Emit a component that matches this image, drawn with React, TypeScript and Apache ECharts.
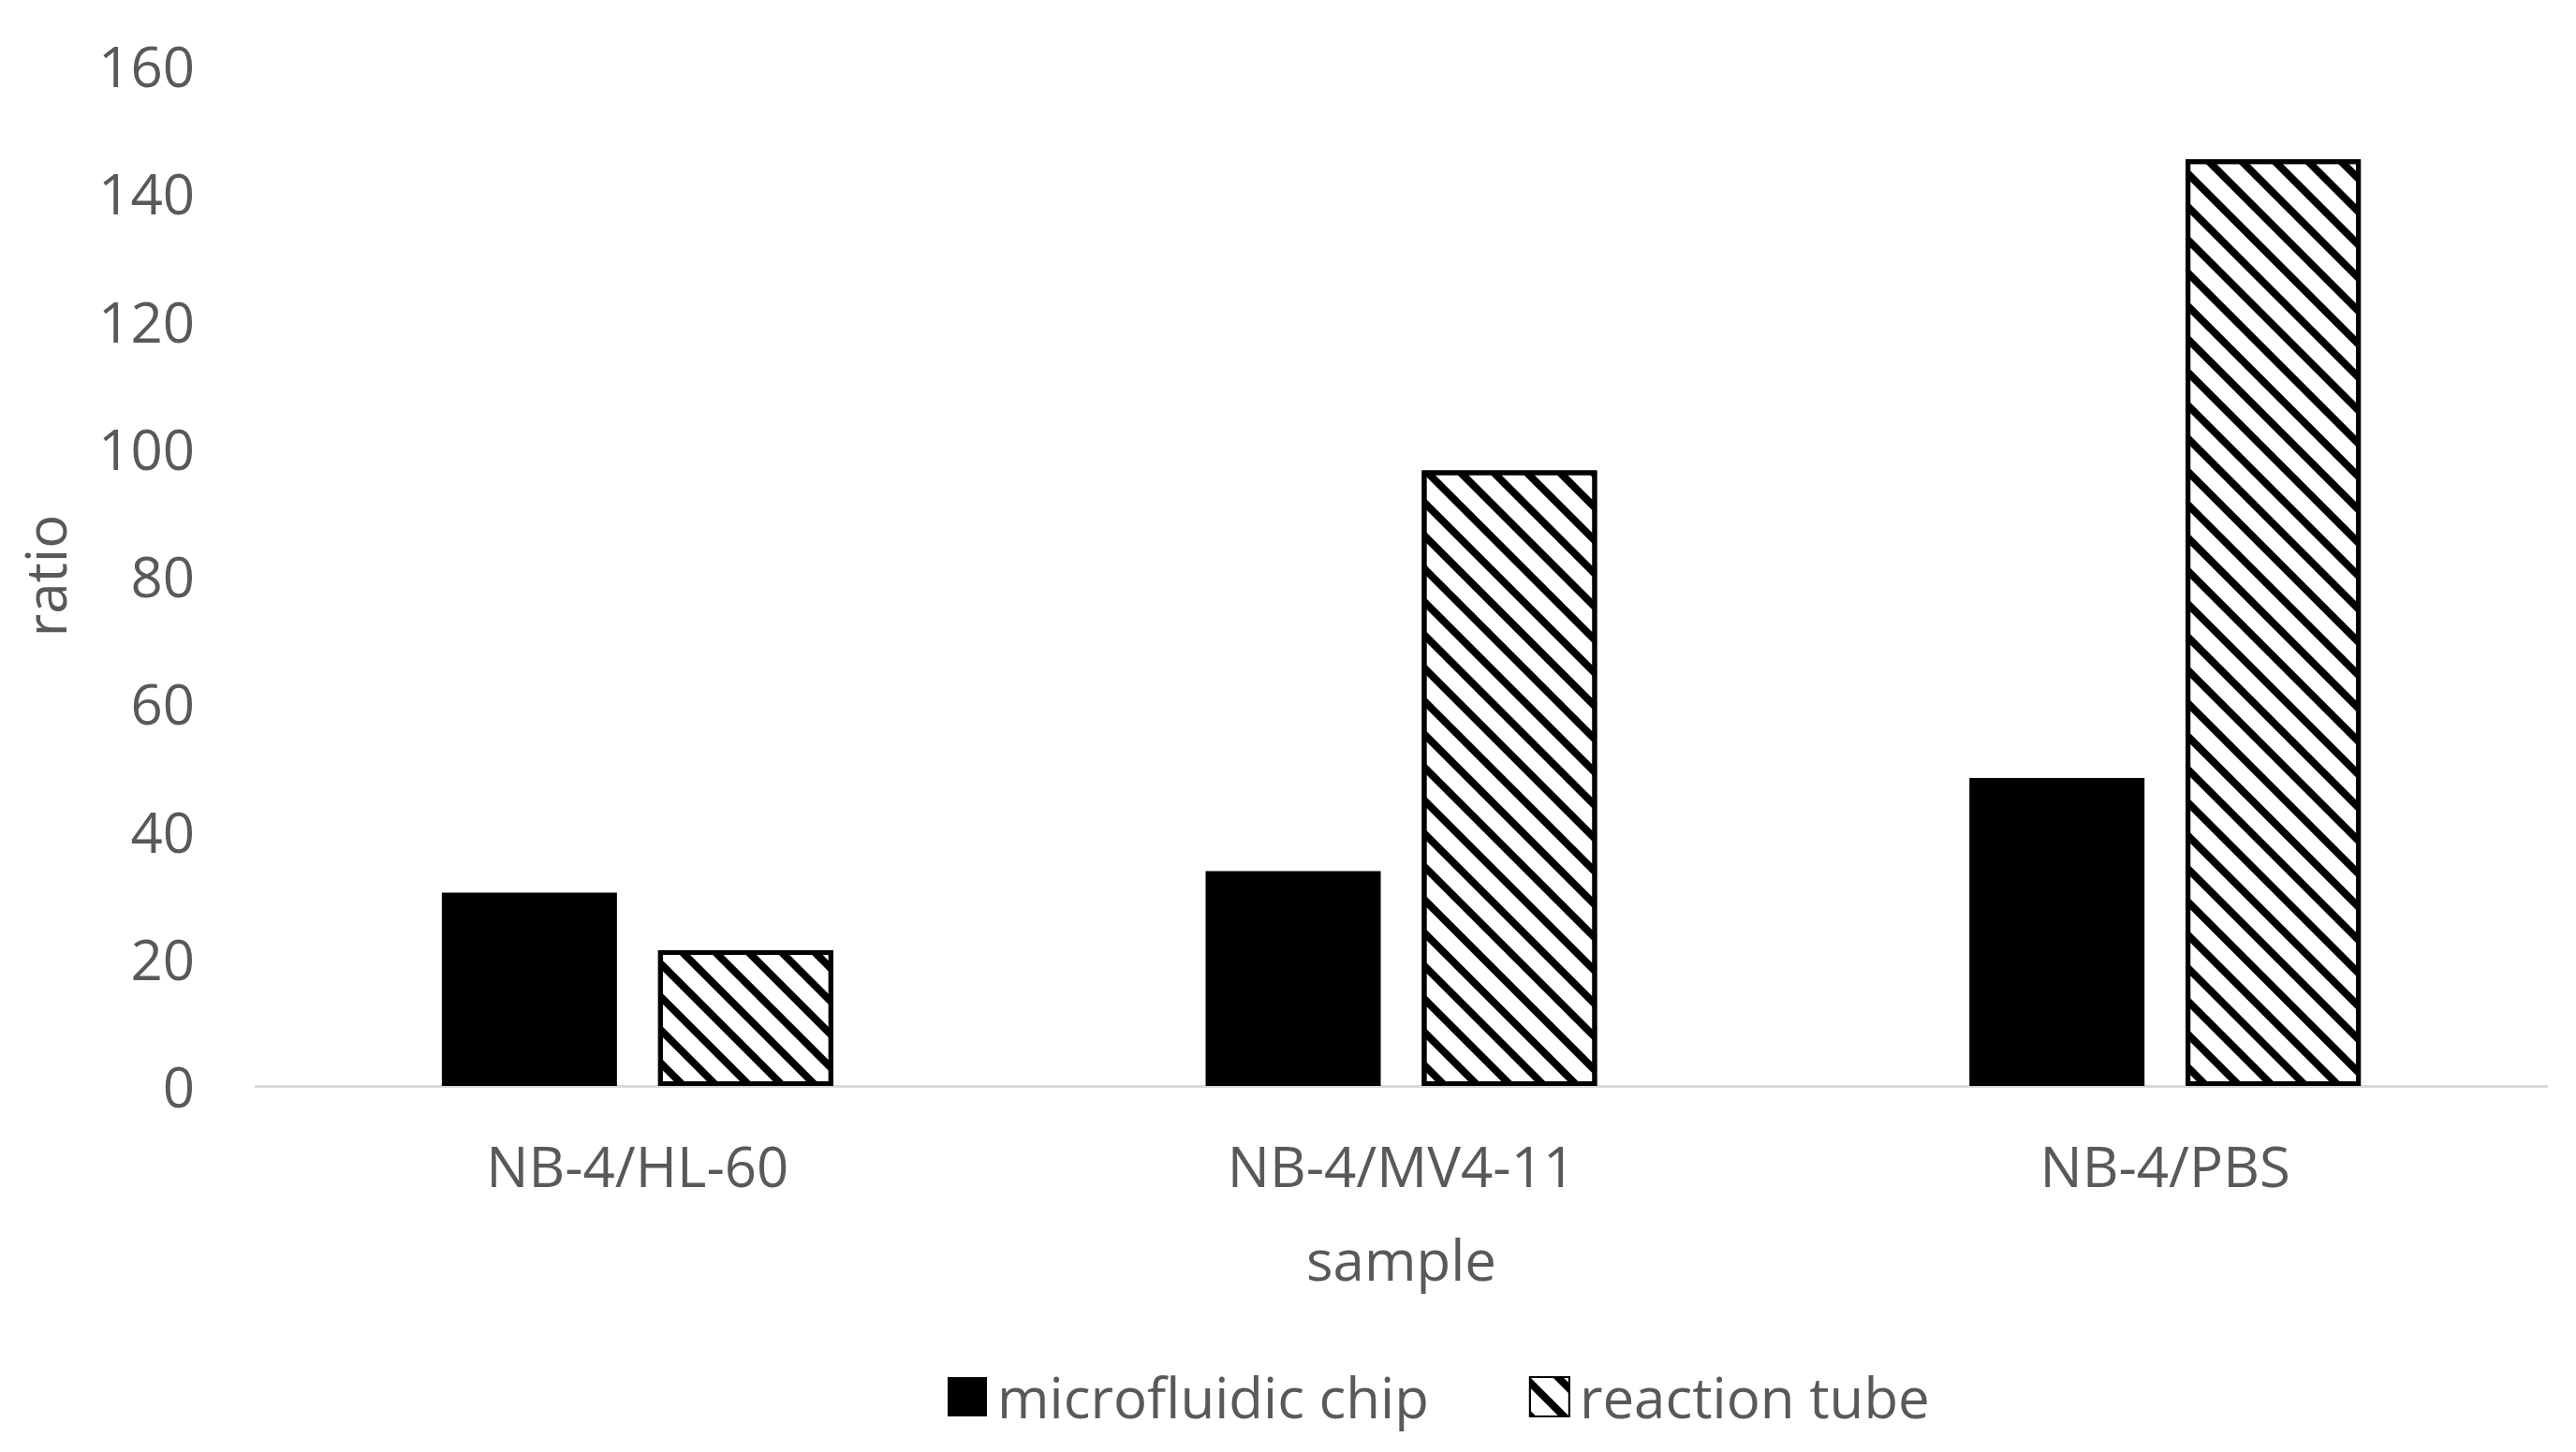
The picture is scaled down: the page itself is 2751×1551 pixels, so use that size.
import React, { useEffect, useRef } from 'react';
import * as echarts from 'echarts';

const categories = ['NB-4/HL-60', 'NB-4/MV4-11', 'NB-4/PBS'];
const chipValues = [30.3, 33.7, 48.3];
const tubeValues = [21.3, 96.5, 145.3];
const seriesNames = ['microfluidic chip', 'reaction tube'];
const yMin = 0;
const yMax = 160;
const yInterval = 20;

const FONT = 'Open Sans';
const TEXT = '#595959';

export default function App() {
  const ref = useRef<HTMLDivElement>(null);
  useEffect(() => {
    document.body.style.margin = '0';
    document.body.style.overflow = 'hidden';
    const chart = echarts.init(ref.current as HTMLDivElement, null, { renderer: 'svg' });
    chart.setOption({
      animation: false,
      backgroundColor: '#ffffff',
      textStyle: { fontFamily: FONT },
      grid: { left: 273, right: 31, top: 70, bottom: 391 },
      legend: {
        data: seriesNames,
        left: 1007,
        top: 1457,
        icon: 'rect',
        itemWidth: 42,
        itemHeight: 42,
        itemGap: 107,
        textStyle: { fontSize: 60, color: TEXT, fontFamily: FONT, padding: [0, 0, 0, 6] },
      },
      xAxis: {
        type: 'category',
        data: categories,
        name: 'sample',
        nameLocation: 'middle',
        nameGap: 155,
        nameTextStyle: { fontSize: 60, color: TEXT, fontFamily: FONT },
        axisLine: { show: true, lineStyle: { color: '#d9d9d9', width: 3 } },
        axisTick: { show: false },
        splitLine: { show: false },
        axisLabel: { fontSize: 60, color: TEXT, fontFamily: FONT, margin: 55 },
      },
      yAxis: {
        type: 'value',
        min: yMin,
        max: yMax,
        interval: yInterval,
        name: 'ratio',
        nameLocation: 'middle',
        nameGap: 195,
        nameRotate: 90,
        nameTextStyle: { fontSize: 60, color: TEXT, fontFamily: FONT },
        axisLine: { show: false },
        axisTick: { show: false },
        splitLine: { show: false },
        axisLabel: { fontSize: 60, color: TEXT, fontFamily: FONT, margin: 65 },
      },
      series: [
        {
          name: seriesNames[0],
          type: 'bar',
          data: chipValues,
          barWidth: 187,
          barGap: '23.5%',
          itemStyle: { color: '#000000' },
        },
        {
          name: seriesNames[1],
          type: 'bar',
          data: tubeValues,
          barWidth: 187,
          barGap: '23.5%',
          itemStyle: {
            color: '#ffffff',
            borderColor: '#000000',
            borderWidth: 5,
            decal: {
              symbol: 'rect',
              symbolSize: 1,
              color: '#000000',
              backgroundColor: '#ffffff',
              dashArrayX: [1, 0],
              dashArrayY: [8, 17],
              rotation: Math.PI / 4,
            },
          },
        },
      ],
    });
    return () => chart.dispose();
  }, []);
  return <div ref={ref} style={{ width: 2751, height: 1551 }} />;
}
